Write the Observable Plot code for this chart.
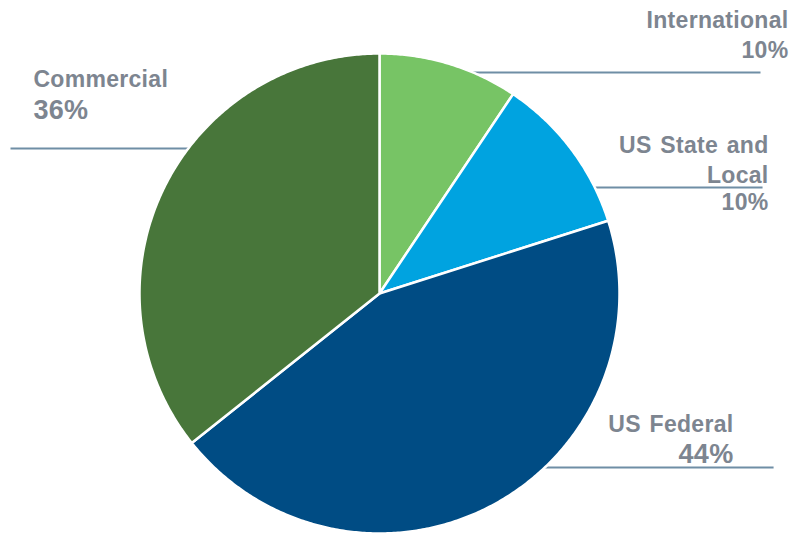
<!DOCTYPE html>
<html>
<head>
<meta charset="utf-8">
<script src="https://cdn.jsdelivr.net/npm/d3@7"></script>
<script src="https://cdn.jsdelivr.net/npm/@observablehq/plot@0.6"></script>
<style>
  html, body { margin: 0; padding: 0; background: #ffffff; }
  #chart svg text { letter-spacing: 0.3px; word-spacing: 2px; }
</style>
</head>
<body>
<div id="chart"></div>
<script>
// ---- data (clockwise from 12 o'clock) ----
const categories = ["International", "US State and Local", "US Federal", "Commercial"];
const shares = [9.4, 10.7, 44.2, 35.7];
const percentLabels = ["10%", "10%", "44%", "36%"];
const nameLabels = ["International", "US State and\nLocal", "US Federal", "Commercial"];
const sliceColors = ["#77c465", "#00a3e0", "#004c84", "#48763a"];

// ---- label layout (in units of the pie radius, origin at centre) ----
const layout = [
  {anchor: "end",   tx: 1.704,  nameY: 1.108,  pctY: 0.983,  lineY: 0.921,  lineEnd: 1.5875, nameSize: 23, pctSize: 23},
  {anchor: "end",   tx: 1.621,  nameY: 0.4625, pctY: 0.346,  lineY: 0.442,  lineEnd: 1.596,  nameSize: 23, pctSize: 23},
  {anchor: "end",   tx: 1.475,  nameY: -0.579, pctY: -0.708, lineY: -0.725, lineEnd: 1.642,  nameSize: 23, pctSize: 27},
  {anchor: "start", tx: -1.442, nameY: 0.8625, pctY: 0.729,  lineY: 0.604,  lineEnd: -1.5375, nameSize: 23, pctSize: 27}
];

// ---- build slice polygons from the shares ----
const total = d3.sum(shares);
const slicePts = [];
let acc = 0;
categories.forEach((name, i) => {
  const a0 = acc / total * 2 * Math.PI;
  acc += shares[i];
  const a1 = acc / total * 2 * Math.PI;
  slicePts.push({name, x: 0, y: 0});
  const n = Math.max(2, Math.ceil((a1 - a0) / (Math.PI / 360)));
  for (let k = 0; k <= n; k++) {
    const a = a0 + (a1 - a0) * k / n;
    slicePts.push({name, x: Math.sin(a), y: Math.cos(a)});
  }
  slicePts.push({name, x: 0, y: 0});
});

const labels = categories.map((name, i) => {
  const L = layout[i];
  const side = L.anchor === "start" ? -1 : 1;
  return {
    name,
    label: nameLabels[i],
    pct: percentLabels[i],
    anchor: L.anchor, tx: L.tx, nameY: L.nameY, pctY: L.pctY,
    lineY: L.lineY, lineEnd: L.lineEnd, nameSize: L.nameSize, pctSize: L.pctSize,
    lineStart: side * Math.sqrt(Math.max(0, 1 - L.lineY * L.lineY))
  };
});

const textColor = "#7d8590";
const font = "Liberation Sans, Arial, sans-serif";

const textMarks = labels.flatMap(l => [
  Plot.text([l], {x: "tx", y: "nameY", text: d => d.label, textAnchor: l.anchor, lineAnchor: "bottom",
    lineHeight: 1.3, fontSize: l.nameSize, fontWeight: "bold", fill: textColor}),
  Plot.text([l], {x: "tx", y: "pctY", text: d => d.pct, textAnchor: l.anchor, lineAnchor: "bottom",
    fontSize: l.pctSize, fontWeight: "bold", fill: textColor})
]);

try {
  const chart = Plot.plot({
    width: 803,
    height: 536,
    marginLeft: 139,
    marginRight: 184,
    marginTop: 53,
    marginBottom: 3,
    style: {fontFamily: font, background: "#ffffff", overflow: "visible"},
    x: {domain: [-1, 1], axis: null},
    y: {domain: [-1, 1], axis: null},
    color: {domain: categories, range: sliceColors},
    marks: [
      Plot.link(labels, {x1: "lineStart", y1: "lineY", x2: "lineEnd", y2: "lineY",
        stroke: "#6f8ea5", strokeWidth: 2}),
      Plot.line(slicePts, {x: "x", y: "y", z: "name", fill: "name", stroke: "#ffffff",
        strokeWidth: 2.5, strokeLinejoin: "round", curve: "linear"}),
      ...textMarks
    ]
  });
  document.getElementById("chart").appendChild(chart);
} catch (e) {
  document.getElementById("chart").textContent = String(e);
}
</script>
</body>
</html>
